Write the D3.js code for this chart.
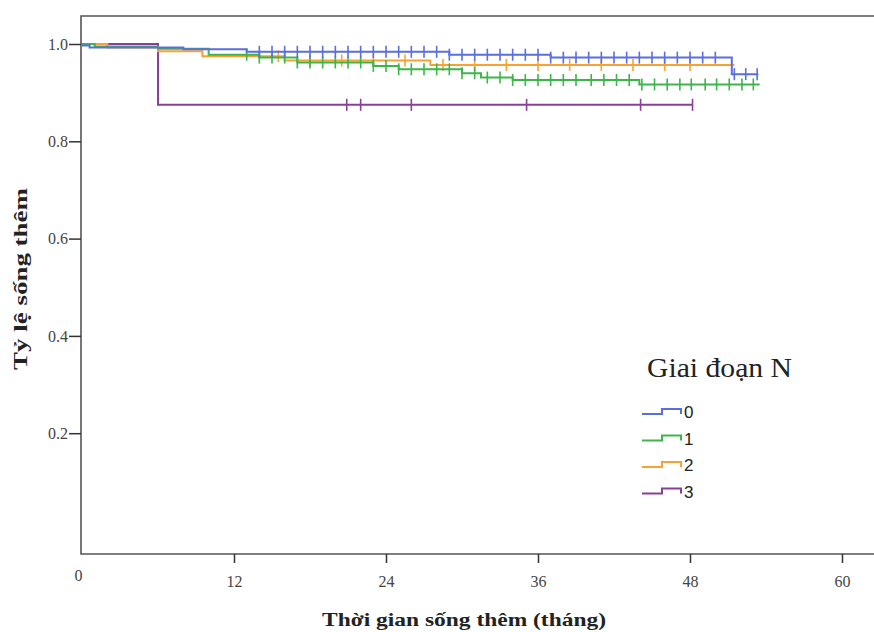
<!DOCTYPE html>
<html>
<head>
<meta charset="utf-8">
<script src="https://cdn.jsdelivr.net/npm/d3@7"></script>
<style>
  body { margin: 0; background: #fff; }
  svg { display: block; }
</style>
</head>
<body>
<svg id="chart"></svg>
<script>
// groups (Giai đoạn N)
const groups = ["0", "1", "2", "3"];
const colors = ["#5a6ee0", "#3cb54a", "#f7a233", "#8c3f98"];

// step times (months) and survival after each step
const time0 = [0, 0.6, 8, 13, 29, 37, 51.3];
const surv0 = [0.997, 0.993, 0.989, 0.984, 0.978, 0.972, 0.938];
const end0 = 53.4;
const cens0 = [14, 15, 16, 17, 18, 19, 20, 21, 22, 23, 24, 25, 26, 27, 28, 29, 30, 31, 32, 33,
  34, 35, 36, 37, 38, 39, 40, 41, 42, 43, 44, 45, 46, 47, 48, 49, 50, 51.5, 52.4, 53.3];

const time1 = [0, 1, 6, 10, 14, 17, 23, 25, 30, 31.5, 34, 44];
const surv1 = [1.0, 0.995, 0.99, 0.978, 0.972, 0.962, 0.955, 0.948, 0.94, 0.931, 0.926, 0.917];
const end1 = 53.5;
const cens1 = [13, 14, 15, 16, 17, 18, 19, 20, 21, 22, 23, 24, 25, 26, 27, 28, 29, 30, 31, 32,
  33, 34, 35, 36, 37, 38, 39, 40.2, 41.2, 42.2, 43.2, 44.2, 45.2, 46.2, 47.2, 48.1, 49.2, 50.1, 51.1, 52.1, 53];

const time2 = [0, 2, 6, 9.5, 16, 27.5];
const surv2 = [1.0, 0.993, 0.985, 0.975, 0.966, 0.957];
const end2 = 51.5;
const cens2 = [15.5, 18, 20.5, 23, 25.5, 28.5, 31, 33.5, 36, 38.5, 41, 43.5, 46, 48];

const time3 = [0, 6];
const surv3 = [1.0, 0.875];
const end3 = 48.2;
const cens3 = [20.9, 22, 26, 35.1, 44.1, 48.2];

const xTicks = [0, 12, 24, 36, 48, 60];
const yTicks = [0.2, 0.4, 0.6, 0.8, 1.0];

const series = [
  { time: time0, surv: surv0, end: end0, cens: cens0 },
  { time: time1, surv: surv1, end: end1, cens: cens1 },
  { time: time2, surv: surv2, end: end2, cens: cens2 },
  { time: time3, surv: surv3, end: end3, cens: cens3 }
];

const width = 874, height = 632;
const svg = d3.select("#chart").attr("width", width).attr("height", height);

const x = d3.scaleLinear().domain([0, 60]).range([82, 842]);
const y = d3.scaleLinear().domain([0, 1]).range([530.5, 44]);
const plotTop = 16, plotBottom = 554, plotLeft = 81, plotRight = 900;
const serif = "Liberation Serif, Times New Roman, serif";

// frame (right side runs off the image)
svg.append("path")
  .attr("d", `M${plotRight},${plotTop} H${plotLeft} V${plotBottom} H${plotRight}`)
  .attr("fill", "none")
  .attr("stroke", "#555")
  .attr("stroke-width", 1.6);

// y axis
const yAxis = svg.append("g").attr("transform", `translate(${plotLeft},0)`)
  .call(d3.axisLeft(y).tickValues(yTicks).tickFormat(d3.format(".1f")).tickSize(12).tickPadding(1));
yAxis.select(".domain").remove();
yAxis.selectAll("line").attr("stroke", "#333").attr("stroke-width", 1.5);
yAxis.selectAll("text")
  .attr("font-family", serif)
  .attr("font-size", 16)
  .attr("fill", "#444");

// x axis
const xAxis = svg.append("g").attr("transform", `translate(0,${plotBottom})`)
  .call(d3.axisBottom(x).tickValues(xTicks).tickSize(9).tickPadding(13));
xAxis.select(".domain").remove();
xAxis.selectAll("line").attr("stroke", "#333").attr("stroke-width", 1.5)
  .filter(d => d === 0).remove();
xAxis.selectAll("text")
  .attr("font-family", serif)
  .attr("font-size", 16)
  .attr("fill", "#444")
  .attr("dx", d => d === 0 ? -4 : 0)
  .attr("y", d => d === 0 ? 16 : 22);

// axis titles
svg.append("text")
  .attr("x", 464).attr("y", 626)
  .attr("text-anchor", "middle")
  .attr("font-family", serif)
  .attr("font-weight", "bold")
  .attr("font-size", 19)
  .attr("textLength", 284)
  .attr("lengthAdjust", "spacingAndGlyphs")
  .attr("fill", "#222")
  .text("Thời gian sống thêm (tháng)");

svg.append("text")
  .attr("transform", "translate(27,279) rotate(-90)")
  .attr("text-anchor", "middle")
  .attr("font-family", serif)
  .attr("font-weight", "bold")
  .attr("font-size", 18)
  .attr("textLength", 182)
  .attr("lengthAdjust", "spacingAndGlyphs")
  .attr("fill", "#222")
  .text("Tỷ lệ sống thêm");

// survival curves
const line = d3.line().x(d => x(d[0])).y(d => y(d[1])).curve(d3.curveStepAfter);

function survAt(s, t) {
  let v = s.surv[0];
  for (let i = 0; i < s.time.length; i++) if (s.time[i] <= t) v = s.surv[i];
  return v;
}

// draw in order so blue ends up on top like the reference
[3, 2, 1, 0].forEach(i => {
  const s = series[i];
  const pts = s.time.map((t, k) => [t, s.surv[k]]);
  pts.push([s.end, s.surv[s.surv.length - 1]]);
  const g = svg.append("g");
  g.append("path")
    .attr("d", line(pts))
    .attr("fill", "none")
    .attr("stroke", colors[i])
    .attr("stroke-width", 2);
  g.selectAll("line")
    .data(s.cens)
    .enter().append("line")
    .attr("x1", d => x(d)).attr("x2", d => x(d))
    .attr("y1", d => y(survAt(s, d)) - 6)
    .attr("y2", d => y(survAt(s, d)) + 6)
    .attr("stroke", colors[i])
    .attr("stroke-width", 1.6);
});

// legend
svg.append("text")
  .attr("x", 647).attr("y", 377)
  .attr("font-family", serif)
  .attr("font-size", 28)
  .attr("textLength", 145)
  .attr("lengthAdjust", "spacingAndGlyphs")
  .attr("fill", "#222")
  .text("Giai đoạn N");

const leg = svg.append("g").selectAll("g")
  .data(groups)
  .enter().append("g")
  .attr("transform", (d, i) => `translate(642,${409 + i * 26.5})`);

leg.append("path")
  .attr("d", "M0,5 H20 V0 H39 V5")
  .attr("fill", "none")
  .attr("stroke", (d, i) => colors[i])
  .attr("stroke-width", 2);

leg.append("text")
  .attr("x", 42).attr("y", 9)
  .attr("font-family", "Liberation Sans, Arial, sans-serif")
  .attr("font-size", 17)
  .attr("fill", "#222")
  .text(d => d);
</script>
</body>
</html>
